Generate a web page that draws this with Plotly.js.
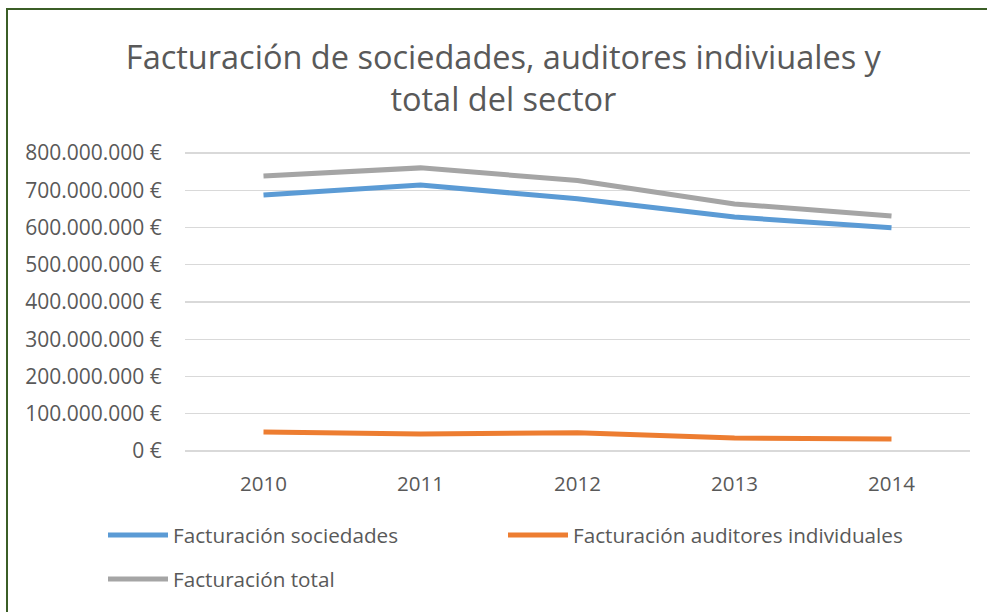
<!DOCTYPE html>
<html>
<head>
<meta charset="utf-8">
<script src="https://cdn.plot.ly/plotly-3.0.1.min.js"></script>
<style>
  html, body { margin: 0; padding: 0; background: #ffffff; }
  #wrap { position: relative; width: 987px; height: 612px; overflow: hidden; }
  #chart { position: absolute; left: 0; top: 0; width: 987px; height: 612px; }
  #frame { position: absolute; left: 6px; top: 8px; width: 990px; height: 620px;
           border-left: 2px solid #3b5e26; border-top: 2px solid #3b5e26; pointer-events: none; }
</style>
</head>
<body>
<div id="wrap">
  <div id="chart"></div>
  <div id="frame"></div>
</div>
<script>
const years = ['2010', '2011', '2012', '2013', '2014'];
const sociedades = [687000000, 714000000, 677000000, 628000000, 599000000];
const individuales = [51000000, 46000000, 49000000, 35000000, 32000000];
const total = [738000000, 760000000, 726000000, 663000000, 631000000];
const tickValues = [0, 100000000, 200000000, 300000000, 400000000, 500000000, 600000000, 700000000, 800000000];
const tickLabels = ['0 €', '100.000.000 €', '200.000.000 €', '300.000.000 €', '400.000.000 €',
                    '500.000.000 €', '600.000.000 €', '700.000.000 €', '800.000.000 €'];
const seriesNames = ['Facturación sociedades', 'Facturación auditores individuales', 'Facturación total'];
const colors = ['#5b9bd5', '#ed7d31', '#a5a5a5'];

const FONT = '"Open Sans", "Noto Sans", sans-serif';
const TXT = '#595959';

const data = [
  { x: years, y: sociedades, name: seriesNames[0], type: 'scatter', mode: 'lines',
    line: { color: colors[0], width: 5 }, legend: 'legend' },
  { x: years, y: individuales, name: seriesNames[1], type: 'scatter', mode: 'lines',
    line: { color: colors[1], width: 5 }, legend: 'legend2' },
  { x: years, y: total, name: seriesNames[2], type: 'scatter', mode: 'lines',
    line: { color: colors[2], width: 5 }, legend: 'legend3' }
];

// plot area: 0 at y=451px, 800M at y=153px; range padded 8M (~3px) each side so edge gridlines show
const T = 150, B = 612 - 454, H = 612 - T - B;
const py = (p) => (454 - p) / H;

const legendBase = { orientation: 'h', xanchor: 'left', yanchor: 'middle',
  font: { family: FONT, size: 20.7, color: TXT }, bgcolor: 'rgba(0,0,0,0)', itemwidth: 60 };

const layout = {
  width: 987, height: 612,
  paper_bgcolor: '#ffffff', plot_bgcolor: '#ffffff',
  margin: { l: 185, r: 17, t: T, b: B },
  font: { family: FONT, color: TXT },
  title: {
    text: 'Facturación de sociedades, auditores indiviuales y<br>total del sector',
    font: { family: FONT, size: 32.5, color: TXT },
    xref: 'container', x: 0.51, xanchor: 'center',
    yref: 'container', y: 1 - 69 / 612, yanchor: 'middle'
  },
  xaxis: {
    type: 'category', range: [-0.5, 4.5],
    showgrid: false, zeroline: false, showline: false,
    ticks: 'outside', ticklen: 11, tickcolor: 'rgba(0,0,0,0)',
    tickfont: { family: FONT, size: 20.5, color: TXT }
  },
  yaxis: {
    range: [-8000000, 808000000], tickmode: 'array', tickvals: tickValues, ticktext: tickLabels,
    showgrid: true, gridcolor: '#d9d9d9', gridwidth: 1.3, zeroline: false, showline: false,
    ticks: 'outside', ticklen: 18, tickcolor: 'rgba(0,0,0,0)',
    tickfont: { family: FONT, size: 21, color: TXT }
  },
  showlegend: true,
  legend: Object.assign({}, legendBase, { x: (103 - 185) / 785, y: py(535) }),
  legend2: Object.assign({}, legendBase, { x: (503 - 185) / 785, y: py(535) }),
  legend3: Object.assign({}, legendBase, { x: (103 - 185) / 785, y: py(579) })
};

Plotly.newPlot('chart', data, layout, { displayModeBar: false, staticPlot: true });
</script>
</body>
</html>
